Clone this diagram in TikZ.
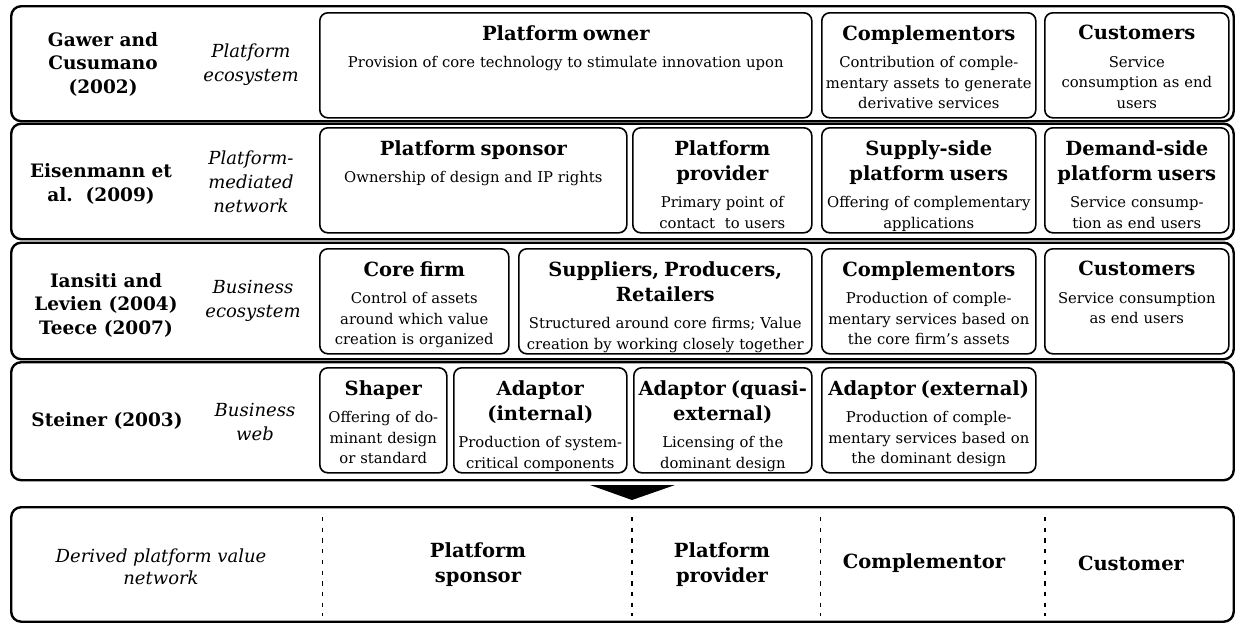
\documentclass[tikz,border=0pt]{standalone}
\usepackage{fontspec}
\setmainfont{DejaVu Serif}
\usetikzlibrary{positioning}

\newcommand\hd{\fontsize{19.5}{25}\selectfont\bfseries}
\newcommand\ds{\par\vspace{7pt}\fontsize{14.8}{20.5}\selectfont\mdseries}

\begin{document}
\begin{tikzpicture}[
  x=1pt, y=-1pt,
  band/.style={rectangle, draw, line width=2.4pt, rounded corners=10pt, anchor=north west, inner sep=0pt, minimum width=1222.5pt},
  cell/.style={rectangle, draw, line width=1.6pt, rounded corners=8pt, anchor=north west, inner sep=0pt, minimum height=105pt},
  txt/.style={anchor=north, text width=470pt, align=center, inner sep=0pt, yshift=-13pt, font=\fontsize{14.8}{20.5}\selectfont},
  author/.style={font=\fontsize{18.5}{23.5}\selectfont\bfseries, align=center},
  term/.style={font=\fontsize{18}{24}\selectfont\itshape, align=center},
  role/.style={font=\hd, align=center},
  sep/.style={dash pattern=on 4.3pt off 6.4pt, line width=1.4pt}
]
\useasboundingbox (0,0) rectangle (1235,622);

\node[band, minimum height=115pt] (rowA) at (10,5) {};
\node[band, minimum height=115.5pt] (rowB) at (10,122.5) {};
\node[band, minimum height=116.5pt] (rowC) at (10,241.5) {};
\node[band, minimum height=118pt] (rowD) at (10,361) {};
\node[band, minimum height=114.5pt] (derivedrow) at (10,506) {};

\node[author] (gawer) at (103,64) {Gawer and\\Cusumano\\(2002)};
\node[term] (pe) at (251,65) {Platform\\ecosystem};
\node[author] (eisen) at (101,184) {Eisenmann et\\al.\ \ (2009)};
\node[term] (pmn) at (251,182) {Platform-\\mediated\\network};
\node[author] (iansiti) at (106,305) {Iansiti and\\Levien (2004)\\Teece (2007)};
\node[term] (be) at (253,301) {Business\\ecosystem};
\node[author] (steiner) at (107,421) {Steiner (2003)};
\node[term] (bw) at (255,422) {Business\\web};

\node[cell, minimum width=492pt] (owner) at (319,12) {};
\node[txt] (owner-t) at (owner.north) {\hd Platform owner\ds Provision of core technology to stimulate innovation upon};
\node[cell, minimum width=214pt] (compA) at (821,12) {};
\node[txt] (compA-t) at (compA.north) {\hd Complementors\ds Contribution of comple-\\mentary assets to generate\\derivative services};
\node[cell, minimum width=184pt] (custA) at (1044,12) {};
\node[txt] (custA-t) at (custA.north) {\hd Customers\ds Service\\consumption as end\\users};

\node[cell, minimum width=307pt] (sponsor) at (319,127) {};
\node[txt] (sponsor-t) at (sponsor.north) {\hd Platform sponsor\ds Ownership of design and IP rights};
\node[cell, minimum width=179pt] (provider) at (632,127) {};
\node[txt] (provider-t) at (provider.north) {\hd Platform\\provider\ds Primary point of\\contact\ \ to users};
\node[cell, minimum width=214pt] (supply) at (821,127) {};
\node[txt] (supply-t) at (supply.north) {\hd Supply-side\\platform users\ds Offering of complementary\\applications};
\node[cell, minimum width=184pt] (demand) at (1044,127) {};
\node[txt] (demand-t) at (demand.north) {\hd Demand-side\\platform users\ds Service consump-\\tion as end users};

\node[cell, minimum width=189pt] (core) at (319,248) {};
\node[txt] (core-t) at (core.north) {\hd Core firm\ds Control of assets\\around which value\\creation is organized};
\node[cell, minimum width=293pt] (suppliers) at (518,248) {};
\node[txt] (suppliers-t) at (suppliers.north) {\hd Suppliers, Producers,\\Retailers\ds Structured around core firms; Value\\creation by working closely together};
\node[cell, minimum width=214pt] (compB) at (821,248) {};
\node[txt] (compB-t) at (compB.north) {\hd Complementors\ds Production of comple-\\mentary services based on\\the core firm’s assets};
\node[cell, minimum width=184pt] (custB) at (1044,248) {};
\node[txt] (custB-t) at (custB.north) {\hd Customers\ds Service consumption\\as end users};

\node[cell, minimum width=127pt] (shaper) at (319,367) {};
\node[txt] (shaper-t) at (shaper.north) {\hd Shaper\ds Offering of do-\\minant design\\or standard};
\node[cell, minimum width=173pt] (adInt) at (453,367) {};
\node[txt] (adInt-t) at (adInt.north) {\hd Adaptor\\(internal)\ds Production of system-\\critical components};
\node[cell, minimum width=178pt] (adQuasi) at (633,367) {};
\node[txt] (adQuasi-t) at (adQuasi.north) {\hd Adaptor (quasi-\\external)\ds Licensing of the\\dominant design};
\node[cell, minimum width=214pt] (adExt) at (821,367) {};
\node[txt] (adExt-t) at (adExt.north) {\hd Adaptor (external)\ds Production of comple-\\mentary services based on\\the dominant design};

\coordinate (arrL) at (590,485);
\coordinate (arrR) at (675,485);
\coordinate (arrT) at (632,500);
\fill (arrL) -- (arrR) -- (arrT) -- cycle;

\node[term, font=\fontsize{18}{21.5}\selectfont\itshape] (derived) at (161,567) {Derived platform value\\network};
\node[role] (psp) at (478,565) {Platform\\sponsor};
\node[role] (ppr) at (722,565) {Platform\\provider};
\node[role] (cmp) at (924,563) {Complementor};
\node[role] (cst) at (1131,563) {Customer};

\draw[sep] (322.7,517) -- (322.7,616);
\draw[sep] (632,517) -- (632,616);
\draw[sep] (820.7,517) -- (820.7,616);
\draw[sep] (1045,517) -- (1045,616);

\end{tikzpicture}
\end{document}
